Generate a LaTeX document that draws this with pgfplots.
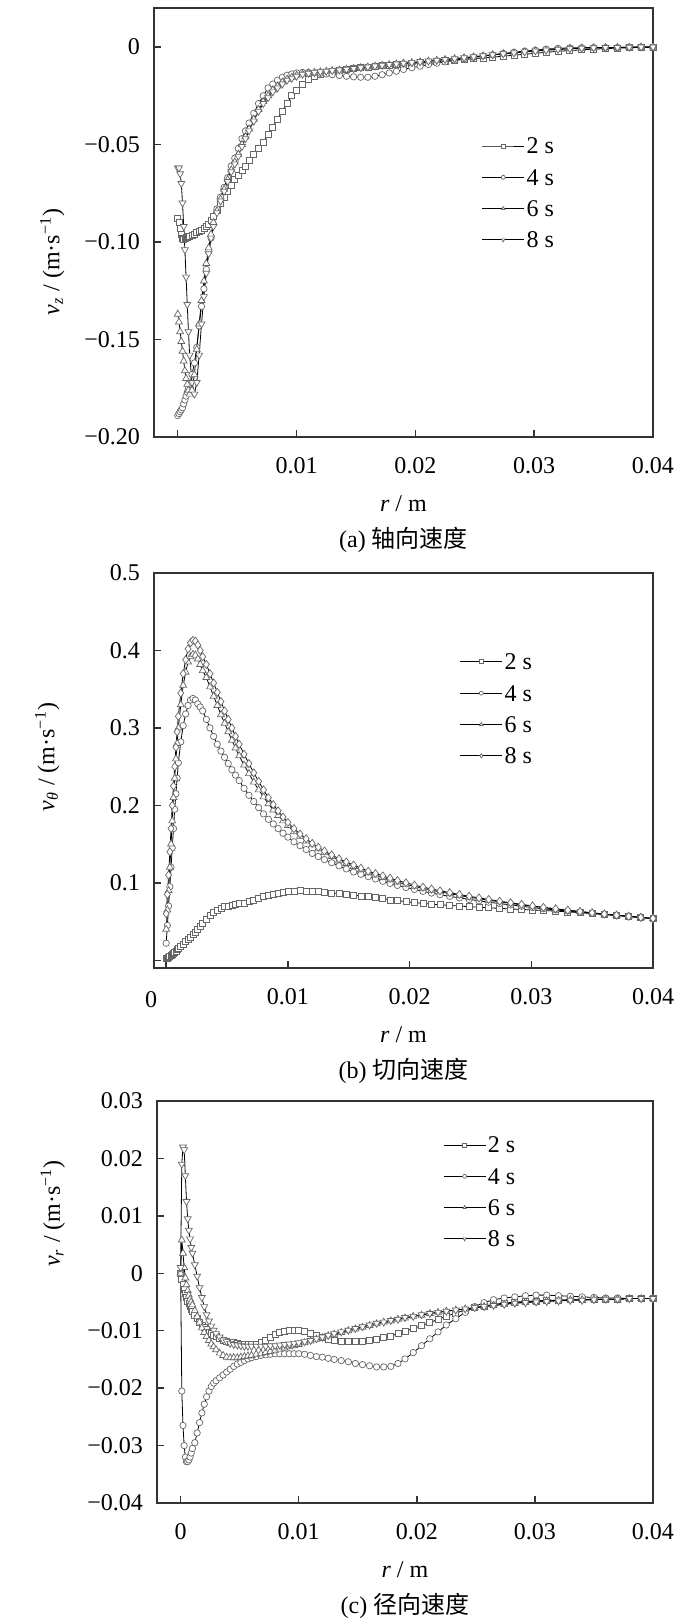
\documentclass[border=0pt]{standalone}
\usepackage{fontspec}
\setmainfont{Liberation Serif}
\newfontfamily\cjk{Noto Sans CJK SC}
\usepackage{pgfplots}
\usepackage{pgfplotstable}
\pgfplotsset{compat=1.18}

\pgfplotstableread{
r a2 a4 a6 a8 b2 b4 b6 b8 c2 c4 c6 c8
0 -0.088 -0.189 -0.137 -0.062 0.002 0.022 0.040 0.060 0.0 0.0 0.0 0.001
0.0001 -0.090 -0.188 -0.141 -0.062 0.003 0.045 0.065 0.085 -0.001 -0.0205 0.0058 0.019
0.0002 -0.093 -0.187 -0.146 -0.065 0.004 0.070 0.090 0.110 -0.002 -0.0265 0.0035 0.022
0.0003 -0.096 -0.186 -0.151 -0.070 0.005 0.095 0.120 0.140 -0.0028 -0.030 0.001 0.0215
0.0004 -0.098 -0.185 -0.156 -0.080 0.006 0.120 0.150 0.170 -0.0035 -0.032 -0.0008 0.017
0.0005 -0.0985 -0.183 -0.161 -0.092 0.0075 0.145 0.180 0.200 -0.0042 -0.0328 -0.002 0.0125
0.0006 -0.098 -0.181 -0.166 -0.104 0.009 0.170 0.210 0.225 -0.0048 -0.0328 -0.003 0.0095
0.0007 -0.0978 -0.179 -0.170 -0.118 0.0105 0.195 0.235 0.250 -0.0053 -0.0325 -0.0038 0.0075
0.0008 -0.0975 -0.177 -0.173 -0.132 0.012 0.215 0.260 0.275 -0.0058 -0.032 -0.0045 0.006
0.0009 -0.0972 -0.175 -0.176 -0.146 0.0135 0.235 0.280 0.295 -0.0062 -0.0313 -0.005 0.0045
0.0010 -0.097 -0.173 -0.178 -0.158 0.015 0.255 0.300 0.315 -0.0066 -0.0305 -0.0055 0.0035
0.0012 -0.0965 -0.168 -0.176 -0.172 0.018 0.282 0.330 0.345 -0.0073 -0.0295 -0.0065 0.0015
0.0014 -0.096 -0.162 -0.168 -0.178 0.021 0.303 0.355 0.370 -0.0079 -0.0278 -0.0075 -0.0005
0.0016 -0.095 -0.154 -0.155 -0.172 0.024 0.318 0.372 0.388 -0.0085 -0.026 -0.0085 -0.0025
0.0018 -0.0945 -0.143 -0.142 -0.158 0.027 0.329 0.385 0.402 -0.009 -0.0243 -0.0095 -0.0042
0.0020 -0.094 -0.133 -0.130 -0.142 0.030 0.336 0.392 0.410 -0.0094 -0.0228 -0.0103 -0.0058
0.0022 -0.093 -0.124 -0.120 -0.128 0.033 0.338 0.395 0.413 -0.0098 -0.0215 -0.011 -0.0072
0.0024 -0.092 -0.114 -0.111 -0.116 0.036 0.336 0.394 0.412 -0.0102 -0.0205 -0.0117 -0.0083
0.0026 -0.091 -0.105 -0.103 -0.106 0.040 0.331 0.389 0.407 -0.0105 -0.0197 -0.0123 -0.0092
0.0028 -0.089 -0.098 -0.096 -0.098 0.044 0.327 0.382 0.400 -0.0108 -0.0191 -0.0128 -0.0099
0.0030 -0.087 -0.091 -0.090 -0.092 0.048 0.322 0.374 0.392 -0.011 -0.0187 -0.0133 -0.0105
0.0033 -0.084 -0.083 -0.084 -0.085 0.053 0.311 0.365 0.382 -0.0113 -0.0182 -0.0139 -0.0111
0.0036 -0.080 -0.077 -0.078 -0.079 0.058 0.300 0.353 0.370 -0.0116 -0.0177 -0.0143 -0.0116
0.0039 -0.077 -0.072 -0.073 -0.074 0.062 0.289 0.341 0.358 -0.0118 -0.0172 -0.0146 -0.0119
0.0042 -0.074 -0.067 -0.068 -0.069 0.065 0.279 0.329 0.346 -0.012 -0.0167 -0.0147 -0.0122
0.0045 -0.071 -0.061 -0.063 -0.064 0.067 0.270 0.317 0.334 -0.0121 -0.0162 -0.0147 -0.0124
0.0048 -0.068 -0.057 -0.059 -0.060 0.069 0.262 0.306 0.322 -0.0122 -0.0158 -0.0147 -0.0125
0.0051 -0.066 -0.052 -0.055 -0.056 0.070 0.254 0.295 0.311 -0.0123 -0.0155 -0.0146 -0.0126
0.0054 -0.063 -0.047 -0.050 -0.051 0.071 0.246 0.284 0.300 -0.0124 -0.0152 -0.0145 -0.0127
0.0057 -0.061 -0.043 -0.046 -0.047 0.072 0.239 0.274 0.289 -0.0124 -0.0149 -0.0144 -0.0127
0.0060 -0.058 -0.039 -0.042 -0.043 0.073 0.232 0.264 0.279 -0.0124 -0.0147 -0.0143 -0.0127
0.0064 -0.055 -0.034 -0.037 -0.038 0.074 0.222 0.252 0.266 -0.0123 -0.0145 -0.0141 -0.0127
0.0068 -0.052 -0.029 -0.032 -0.033 0.076 0.213 0.241 0.254 -0.0121 -0.0143 -0.014 -0.0127
0.0072 -0.049 -0.025 -0.028 -0.029 0.078 0.205 0.230 0.242 -0.0117 -0.0142 -0.0138 -0.0127
0.0076 -0.045 -0.021 -0.025 -0.026 0.080 0.197 0.220 0.231 -0.0112 -0.0141 -0.0136 -0.0126
0.0080 -0.041 -0.019 -0.022 -0.023 0.082 0.189 0.211 0.220 -0.0107 -0.014 -0.0134 -0.0126
0.0084 -0.037 -0.017 -0.020 -0.021 0.084 0.182 0.202 0.210 -0.0103 -0.014 -0.0132 -0.0125
0.0088 -0.033 -0.0155 -0.018 -0.019 0.0855 0.176 0.194 0.201 -0.0101 -0.014 -0.013 -0.0124
0.0092 -0.029 -0.0145 -0.0165 -0.017 0.087 0.170 0.187 0.193 -0.01 -0.014 -0.0128 -0.0123
0.0096 -0.025 -0.0138 -0.0155 -0.016 0.088 0.164 0.180 0.185 -0.01 -0.014 -0.0126 -0.0122
0.0100 -0.022 -0.0133 -0.0145 -0.015 0.089 0.159 0.174 0.178 -0.01 -0.014 -0.0124 -0.0121
0.0105 -0.019 -0.013 -0.0138 -0.014 0.0895 0.153 0.166 0.170 -0.0101 -0.0141 -0.0121 -0.0119
0.0110 -0.0165 -0.013 -0.0133 -0.0135 0.0897 0.148 0.160 0.163 -0.0104 -0.0143 -0.0118 -0.0117
0.0115 -0.015 -0.0132 -0.013 -0.013 0.0895 0.143 0.154 0.157 -0.0108 -0.0145 -0.0115 -0.0114
0.0120 -0.0138 -0.0135 -0.0127 -0.0127 0.089 0.138 0.149 0.151 -0.0112 -0.0146 -0.0112 -0.0111
0.0125 -0.013 -0.0138 -0.0124 -0.0124 0.0885 0.134 0.144 0.146 -0.0115 -0.0148 -0.0109 -0.0108
0.0130 -0.0125 -0.0142 -0.0121 -0.0121 0.088 0.130 0.139 0.141 -0.0117 -0.015 -0.0106 -0.0105
0.0136 -0.012 -0.0146 -0.0118 -0.0118 0.087 0.126 0.134 0.136 -0.0118 -0.0152 -0.0103 -0.0102
0.0142 -0.0115 -0.015 -0.0114 -0.0114 0.086 0.122 0.129 0.131 -0.0119 -0.0154 -0.01 -0.0099
0.0148 -0.011 -0.0153 -0.011 -0.011 0.085 0.118 0.125 0.127 -0.0119 -0.0157 -0.0097 -0.0096
0.0154 -0.0105 -0.0155 -0.0106 -0.0106 0.084 0.114 0.121 0.123 -0.0118 -0.0159 -0.0094 -0.0093
0.0160 -0.0102 -0.0155 -0.0102 -0.0102 0.083 0.111 0.117 0.119 -0.0117 -0.0161 -0.0091 -0.009
0.0166 -0.0098 -0.015 -0.0098 -0.0098 0.082 0.108 0.113 0.115 -0.0115 -0.0163 -0.0088 -0.0087
0.0172 -0.0095 -0.0142 -0.0094 -0.0094 0.081 0.105 0.110 0.112 -0.0112 -0.0163 -0.0085 -0.0085
0.0178 -0.0092 -0.0133 -0.009 -0.009 0.080 0.102 0.107 0.109 -0.0109 -0.0162 -0.0083 -0.0082
0.0184 -0.009 -0.0124 -0.0087 -0.0087 0.078 0.0993 0.104 0.106 -0.0105 -0.0157 -0.008 -0.008
0.0190 -0.0087 -0.0115 -0.0083 -0.0083 0.077 0.0967 0.101 0.103 -0.0101 -0.0149 -0.0078 -0.0077
0.0197 -0.0084 -0.0106 -0.008 -0.008 0.0757 0.094 0.098 0.100 -0.0096 -0.0138 -0.0075 -0.0075
0.0204 -0.0081 -0.0098 -0.0076 -0.0076 0.0745 0.0915 0.0955 0.097 -0.0091 -0.0126 -0.0073 -0.0072
0.0211 -0.0078 -0.009 -0.0072 -0.0072 0.0735 0.089 0.093 0.0945 -0.0086 -0.0114 -0.007 -0.007
0.0218 -0.0075 -0.0083 -0.0068 -0.0068 0.0725 0.0868 0.0905 0.092 -0.008 -0.0102 -0.0068 -0.0068
0.0225 -0.0072 -0.0076 -0.0064 -0.0064 0.0717 0.0847 0.0883 0.0897 -0.0075 -0.009 -0.0066 -0.0066
0.0233 -0.0068 -0.0068 -0.006 -0.006 0.0708 0.0825 0.086 0.0873 -0.0069 -0.0079 -0.0064 -0.0064
0.0241 -0.0064 -0.006 -0.0055 -0.0055 0.070 0.0805 0.0837 0.085 -0.0064 -0.0068 -0.0062 -0.0062
0.0249 -0.006 -0.0053 -0.005 -0.005 0.0692 0.0786 0.0815 0.0827 -0.006 -0.0058 -0.006 -0.006
0.0257 -0.0056 -0.0046 -0.0045 -0.0045 0.0685 0.0768 0.0795 0.0805 -0.0057 -0.0051 -0.0058 -0.0058
0.0265 -0.0052 -0.004 -0.004 -0.004 0.0678 0.075 0.0775 0.0785 -0.0054 -0.0046 -0.0056 -0.0056
0.0274 -0.0047 -0.0033 -0.0035 -0.0035 0.067 0.0732 0.0755 0.0763 -0.0052 -0.0043 -0.0054 -0.0054
0.0283 -0.0042 -0.0027 -0.003 -0.003 0.0663 0.0715 0.0735 0.0742 -0.005 -0.0041 -0.0052 -0.0052
0.0292 -0.0037 -0.0021 -0.0025 -0.0025 0.0656 0.0698 0.0715 0.0722 -0.0049 -0.0039 -0.005 -0.0051
0.0301 -0.0032 -0.0016 -0.002 -0.002 0.065 0.068 0.0697 0.0702 -0.0048 -0.0038 -0.0049 -0.005
0.0310 -0.0027 -0.0011 -0.0016 -0.0016 0.0643 0.0665 0.068 0.0683 -0.0047 -0.0038 -0.0048 -0.0049
0.0320 -0.0022 -0.0007 -0.0012 -0.0012 0.0635 0.065 0.0662 0.0665 -0.0047 -0.0039 -0.0047 -0.0048
0.0330 -0.0018 -0.0004 -0.0009 -0.0009 0.0625 0.0635 0.0645 0.0647 -0.0046 -0.004 -0.0046 -0.0047
0.0340 -0.0014 -0.0003 -0.0006 -0.0006 0.0615 0.062 0.0628 0.063 -0.0046 -0.0041 -0.0046 -0.0047
0.0350 -0.0011 -0.0003 -0.0004 -0.0004 0.0603 0.0606 0.0612 0.0613 -0.0045 -0.0042 -0.0045 -0.0046
0.0360 -0.0008 -0.0003 -0.0003 -0.0003 0.059 0.0593 0.0597 0.0597 -0.0045 -0.0043 -0.0045 -0.0045
0.0370 -0.0006 -0.0003 -0.0002 -0.0002 0.0578 0.058 0.0582 0.0582 -0.0045 -0.0043 -0.0045 -0.0045
0.0380 -0.0004 -0.0002 -0.0001 -0.0001 0.0565 0.0567 0.0567 0.0567 -0.0044 -0.0044 -0.0044 -0.0044
0.0390 -0.0002 -0.0001 0 0 0.0552 0.0553 0.0553 0.0553 -0.0044 -0.0044 -0.0044 -0.0044
0.0400 0 0 0 0 0.054 0.054 0.054 0.054 -0.0044 -0.0044 -0.0044 -0.0044
}\vdata

\pgfplotsset{
  panel/.style={
    scale only axis,
    scaled ticks=false,
    font=\fontsize{12pt}{14pt}\selectfont,
    axis line style={black!80, line width=0.7pt},
    tick style={black!80, line width=0.7pt},
    major tick length=3.3pt,
    tick pos=left,
    tick align=inside,
    xtick={0,0.01,0.02,0.03,0.04},
    xmax=0.04,
    xticklabel style={yshift=-6.5pt},
    yticklabel style={xshift=-3.5pt},
    xlabel={{\itshape r} / m},
    xlabel style={at={(axis description cs:0.5,0)}, anchor=center, yshift=-33.5pt},
    legend cell align=left,
    legend style={draw=none, fill=none, inner sep=0pt, outer sep=0pt,
      row sep=4.65pt, anchor=north west,
      nodes={inner sep=1pt, text height=8.5pt, text depth=0.5pt},
      /tikz/every even column/.append style={column sep=0pt}},
    legend image code/.code={\draw[mark repeat=2, mark phase=2, ##1, mark size=1pt] plot coordinates {(0pt,0pt) (10.5pt,0pt) (21pt,0pt)};},
  },
  pl/.style={black, line width=0.4pt},
  s2/.style={pl, mark=square*, mark size=1.5pt, mark options={fill=white, draw=black!60, line width=0.35pt, solid}},
  s4/.style={pl, mark=*, mark size=1.6pt, mark options={fill=white, draw=black!60, line width=0.35pt, solid}},
  s6/.style={pl, mark=triangle*, mark size=2pt, mark options={fill=white, draw=black!60, line width=0.35pt, solid}},
  s8/.style={pl, mark=triangle*, mark size=2pt, mark options={fill=white, draw=black!60, line width=0.35pt, solid, rotate=180}},
  s8d/.style={pl, mark=diamond*, mark size=2pt, mark options={fill=white, draw=black!60, line width=0.35pt, solid}},
}

\begin{document}
\begin{tikzpicture}[font=\fontsize{12pt}{14pt}\selectfont]
\useasboundingbox (0,0) rectangle (350pt,-812pt);

% (a)
\begin{axis}[panel, name=pa,
  at={(77pt,-218.5pt)}, anchor=south west,
  width=249.5pt, height=214.5pt,
  xmin=-0.002, ymin=-0.2, ymax=0.02,
  xticklabels={,0.01,0.02,0.03,0.04},
  ytick={-0.2,-0.15,-0.1,-0.05,0},
  yticklabels={−0.20,−0.15,−0.10,−0.05,0},
  ylabel={{\itshape v}\textsubscript{\itshape z} / (m·s\textsuperscript{−1})},
  ylabel style={at={(axis description cs:-0.204,0.408)}, anchor=center},
  legend style={at={(0.657,0.704)}},
]
\addplot[s2] table[x=r, y=a2] {\vdata};
\addplot[s4] table[x=r, y=a4] {\vdata};
\addplot[s6] table[x=r, y=a6] {\vdata};
\addplot[s8] table[x=r, y=a8] {\vdata};
\legend{2 s, 4 s, 6 s, 8 s}
\end{axis}

% (b)
\begin{axis}[panel, name=pb,
  at={(77pt,-484pt)}, anchor=south west,
  width=249.5pt, height=197.5pt,
  xmin=-0.001, ymin=-0.01, ymax=0.5,
  xticklabels={,0.01,0.02,0.03,0.04},
  ytick={0,0.1,0.2,0.3,0.4,0.5},
  yticklabels={,0.1,0.2,0.3,0.4,0.5},
  ylabel={{\itshape v}\textsubscript{\itshape θ} / (m·s\textsuperscript{−1})},
  ylabel style={at={(axis description cs:-0.214,0.534)}, anchor=center},
  legend style={at={(0.613,0.803)}},
]
\addplot[s2] table[x=r, y=b2] {\vdata};
\addplot[s4] table[x=r, y=b4] {\vdata};
\addplot[s6] table[x=r, y=b6] {\vdata};
\addplot[s8d] table[x=r, y=b8] {\vdata};
\legend{2 s, 4 s, 6 s, 8 s}
\end{axis}

% (c)
\begin{axis}[panel, name=pc,
  at={(78.5pt,-751.5pt)}, anchor=south west,
  width=248pt, height=201pt,
  xmin=-0.002, ymin=-0.04, ymax=0.03,
  xticklabels={0,0.01,0.02,0.03,0.04},
  ytick={-0.04,-0.03,-0.02,-0.01,0,0.01,0.02,0.03},
  yticklabels={−0.04,−0.03,−0.02,−0.01,0,0.01,0.02,0.03},
  ylabel={{\itshape v}\textsubscript{\itshape r} / (m·s\textsuperscript{−1})},
  ylabel style={at={(axis description cs:-0.21,0.72)}, anchor=center},
  legend style={at={(0.577,0.918)}},
]
\addplot[s2] table[x=r, y=c2] {\vdata};
\addplot[s4] table[x=r, y=c4] {\vdata};
\addplot[s6] table[x=r, y=c6] {\vdata};
\addplot[s8] table[x=r, y=c8] {\vdata};
\legend{2 s, 4 s, 6 s, 8 s}
\end{axis}

\node at ([xshift=-1.5pt,yshift=-16pt]pb.south west) {0};
\node at ([yshift=-51.5pt]pa.south) {(a) {\cjk 轴向速度}};
\node at ([yshift=-51.5pt]pb.south) {(b) {\cjk 切向速度}};
\node at ([yshift=-51.5pt]pc.south) {(c) {\cjk 径向速度}};
\end{tikzpicture}
\end{document}
